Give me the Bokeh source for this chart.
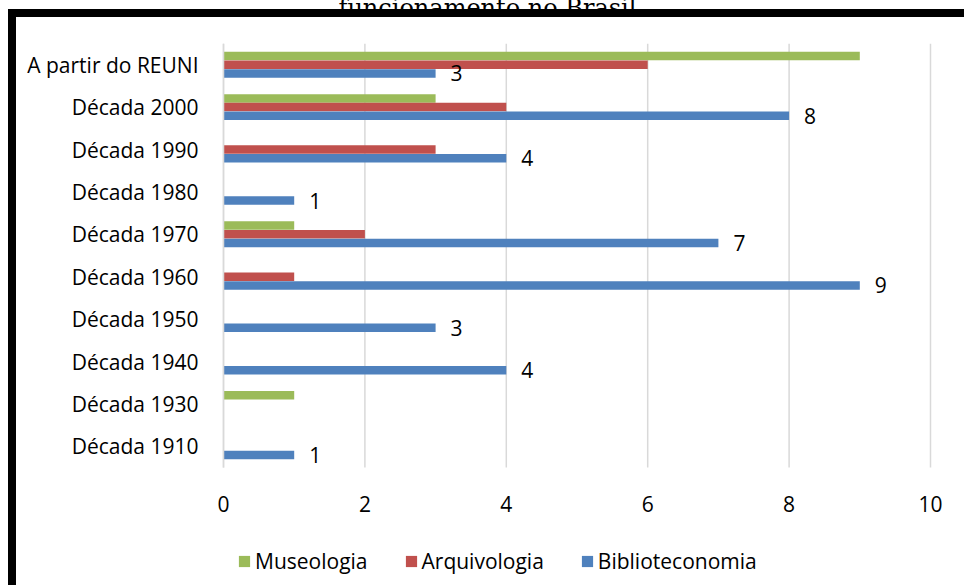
from bokeh.plotting import figure
from bokeh.models import (ColumnDataSource, Range1d, Legend, LegendItem,
                          Label, FixedTicker, InlineStyleSheet)
from bokeh.transform import dodge
from bokeh.core.properties import value
from bokeh.embed import file_html
from bokeh.resources import INLINE

# ---- data ----
categories = ["A partir do REUNI", "Década 2000", "Década 1990", "Década 1980", "Década 1970",
              "Década 1960", "Década 1950", "Década 1940", "Década 1930", "Década 1910"]
museologia = [9, 3, 0, 0, 1, 0, 0, 0, 1, 0]
arquivologia = [6, 4, 3, 0, 2, 1, 0, 0, 0, 0]
biblioteconomia = [3, 8, 4, 1, 7, 9, 3, 4, 0, 1]
series_names = ["Museologia", "Arquivologia", "Biblioteconomia"]
x_ticks = [0, 2, 4, 6, 8, 10]
title_text = "funcionamento no Brasil"

# ---- styles / layout ----
FONT = "Open Sans"
FS = "21px"
colors = {"Museologia": "#9BBB59", "Arquivologia": "#C0504D", "Biblioteconomia": "#4F81BD"}
offsets = {"Museologia": 0.205, "Arquivologia": 0.0, "Biblioteconomia": -0.205}
BAR_H = 0.2
W, H = 964, 585
TOP = 43            # frame top (px)
FRAME_L = 17        # frame left (px), just right of the black border
ZERO_PX = 223       # pixel position of value 0
X_UNIT = 70.7       # pixels per unit of value
CAT_PX = 42.4       # pixels per category band

n = len(categories)
y_pos = [n - 1 - i for i in range(n)]          # first category at the top
y_top = n - 0.5
y_bottom = -0.5
y_start = y_top - (H - TOP) / CAT_PX
x_start = (FRAME_L - ZERO_PX) / X_UNIT
x_end = (W - ZERO_PX) / X_UNIT

src = ColumnDataSource(dict(y=y_pos, cat=categories, Museologia=museologia,
                            Arquivologia=arquivologia, Biblioteconomia=biblioteconomia))

p = figure(width=W, height=H, x_range=Range1d(x_start, x_end), y_range=Range1d(y_start, y_top),
           output_backend="svg", toolbar_location=None,
           min_border_left=FRAME_L, min_border_right=0, min_border_top=TOP, min_border_bottom=0)
p.outline_line_color = None
p.background_fill_color = "white"
p.border_fill_color = None
p.grid.visible = False
# chart-area border (thick black top and left edges) drawn behind the transparent canvas
p.stylesheets = [InlineStyleSheet(css="""
:host {
  background-color: white;
  background-image: linear-gradient(#000,#000), linear-gradient(#000,#000);
  background-size: 956px 8px, 8px 576px;
  background-position: 8px 9px, 8px 9px;
  background-repeat: no-repeat;
}
""")]

# vertical gridlines at the x ticks, spanning the category area
p.segment(x0=x_ticks, x1=x_ticks, y0=[y_bottom] * len(x_ticks), y1=[y_top] * len(x_ticks),
          line_color="#D9D9D9", line_width=1.5)

renderers = {}
for name in series_names:
    renderers[name] = p.hbar(y=dodge("y", offsets[name]), right=name, left=0,
                             height=BAR_H, source=src, fill_color=colors[name], line_color=None)

# data labels for Biblioteconomia
lab_y = [yy for yy, v in zip(y_pos, biblioteconomia) if v != 0]
lab_val = [v for v in biblioteconomia if v != 0]
lab_src = ColumnDataSource(dict(y=lab_y, x=lab_val, label=[str(v) for v in lab_val]))
p.text(x="x", y=dodge("y", offsets["Biblioteconomia"]), text="label",
       source=lab_src, x_offset=15, text_baseline="middle", text_align="left",
       text_font=value(FONT), text_font_size=FS, text_color="black")

# value axis, fixed at the bottom of the category area
xa = p.xaxis[0]
xa.fixed_location = y_bottom
xa.ticker = FixedTicker(ticks=x_ticks)
xa.axis_line_color = None
xa.major_tick_line_color = None
xa.minor_tick_line_color = None
xa.major_label_standoff = 22
xa.major_label_text_font = FONT
xa.major_label_text_font_size = FS
xa.major_label_text_color = "black"

# category axis, fixed at value 0
ya = p.yaxis[0]
ya.fixed_location = 0
ya.ticker = FixedTicker(ticks=y_pos)
ya.major_label_overrides = {yy: c for yy, c in zip(y_pos, categories)}
ya.bounds = (y_bottom, y_top)
ya.axis_line_color = "#D9D9D9"
ya.axis_line_width = 1.5
ya.major_tick_line_color = None
ya.minor_tick_line_color = None
ya.major_label_standoff = 19
ya.major_label_text_font = FONT
ya.major_label_text_font_size = FS
ya.major_label_text_color = "black"

# legend under the axis
legend = Legend(items=[LegendItem(label=s, renderers=[renderers[s]]) for s in series_names],
                orientation="horizontal", location=(220, 10),
                glyph_width=14, glyph_height=14, label_standoff=4, spacing=36,
                padding=0, margin=0, border_line_color=None, background_fill_alpha=0,
                label_text_font=FONT, label_text_font_size=FS, label_text_color="black")
p.add_layout(legend)

# cropped title at the top edge (side-panel label, not clipped to the frame)
p.add_layout(Label(x=338 - FRAME_L, y=36, x_units="screen", y_units="screen", text=title_text,
                   text_align="left", text_baseline="alphabetic",
                   text_font="DejaVu Serif", text_font_size="24px", text_color="black"), "above")

open("out.html", "w").write(file_html(p, INLINE))
